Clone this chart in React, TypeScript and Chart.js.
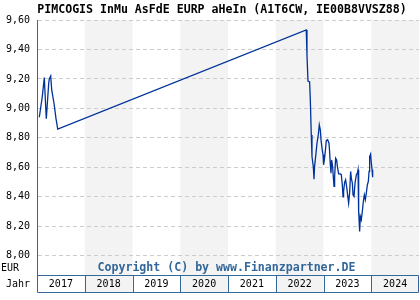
import React, { useEffect, useRef } from "react";
import { Chart, registerables } from "chart.js";

Chart.register(...registerables);

const TITLE = "PIMCOGIS InMu AsFdE EURP aHeIn (A1T6CW, IE00B8VVSZ88)";
const COPYRIGHT = "Copyright (C) by www.Finanzpartner.DE";
const CURRENCY = "EUR";
const YEAR_LABEL = "Jahr";

const years = [2017, 2018, 2019, 2020, 2021, 2022, 2023, 2024];
const yTicks = [8.0, 8.2, 8.4, 8.6, 8.8, 9.0, 9.2, 9.4, 9.6];

const dateX = [
  2017.048, 2017.111, 2017.153, 2017.182, 2017.195, 2017.245, 2017.258, 2017.287,
  2017.308, 2017.356, 2017.398, 2017.434,
  2022.639, 2022.654, 2022.675, 2022.709, 2022.723, 2022.744, 2022.759, 2022.786,
  2022.801, 2022.813, 2022.843, 2022.864, 2022.891, 2022.912, 2022.933, 2022.948,
  2022.969, 2022.99, 2023.002, 2023.023, 2023.044, 2023.059, 2023.086, 2023.115,
  2023.128, 2023.143, 2023.157, 2023.17, 2023.191, 2023.205, 2023.22, 2023.233,
  2023.254, 2023.275, 2023.289, 2023.317, 2023.352, 2023.373, 2023.394, 2023.409,
  2023.421, 2023.442, 2023.463, 2023.484, 2023.505, 2023.526, 2023.547, 2023.568,
  2023.583, 2023.604, 2023.618, 2023.639, 2023.66, 2023.688, 2023.709, 2023.723,
  2023.736, 2023.757, 2023.771, 2023.792, 2023.813, 2023.834, 2023.855, 2023.876,
  2023.897, 2023.918, 2023.939, 2023.954, 2023.966, 2023.987, 2024.002, 2024.017,
  2024.029,
];

const price = [
  8.94, 9.08, 9.21, 9.01, 8.93, 9.17, 9.2, 9.22,
  9.125, 9.035, 8.93, 8.86,
  9.532, 9.363, 9.186, 9.18, 9.07, 8.82, 8.673, 8.605,
  8.52, 8.605, 8.696, 8.764, 8.82, 8.888, 8.854, 8.787,
  8.73, 8.685, 8.617, 8.662, 8.73, 8.782, 8.787, 8.764,
  8.707, 8.617, 8.56, 8.65, 8.605, 8.537, 8.47, 8.537,
  8.662, 8.65, 8.61, 8.556, 8.556, 8.55, 8.48, 8.4,
  8.436, 8.497, 8.515, 8.47, 8.413, 8.357, 8.425, 8.572,
  8.527, 8.493, 8.413, 8.402, 8.493, 8.549, 8.56, 8.583,
  8.3, 8.165, 8.267, 8.244, 8.3, 8.368, 8.413, 8.38,
  8.425, 8.48, 8.504, 8.572, 8.673, 8.69, 8.628, 8.583,
  8.533,
];

const AXIS_BLUE = "#336699";
const LINE_BLUE = "#003399";
const BAND_GREY = "#f3f3f3";
const MONO = "'DejaVu Sans Mono', monospace";

function fitText(ctx: CanvasRenderingContext2D, text: string, weight: string, target: number, base: number) {
  ctx.font = `${weight} ${base}px ${MONO}`;
  const w = ctx.measureText(text).width;
  const size = (base * target) / w;
  ctx.font = `${weight} ${size}px ${MONO}`;
}

export default function App() {
  const ref = useRef<HTMLCanvasElement | null>(null);

  useEffect(() => {
    if (!ref.current) return;
    const boxTop = 275;
    const boxBottom = 292;

    const decor = {
      id: "decor",
      beforeDraw(chart: any) {
        const { ctx, chartArea } = chart;
        const xs = chart.scales.x;
        ctx.save();
        ctx.fillStyle = "#ffffff";
        ctx.fillRect(0, 0, chart.width, chart.height);
        years.forEach((yr, i) => {
          if (i % 2 === 1) {
            const a = xs.getPixelForValue(yr);
            const b = xs.getPixelForValue(yr + 1);
            ctx.fillStyle = BAND_GREY;
            ctx.fillRect(a, chartArea.top, b - a, boxBottom - chartArea.top);
          }
        });
        ctx.restore();
      },
      afterDraw(chart: any) {
        const { ctx, chartArea } = chart;
        const xs = chart.scales.x;
        ctx.save();
        ctx.strokeStyle = AXIS_BLUE;
        ctx.lineWidth = 1;
        const left = Math.round(chartArea.left) + 0.5;
        const right = Math.round(chartArea.right) - 0.5;
        ctx.beginPath();
        ctx.moveTo(left, chartArea.top);
        ctx.lineTo(left, boxBottom + 0.5);
        ctx.lineTo(right, boxBottom + 0.5);
        ctx.lineTo(right, boxTop + 0.5);
        ctx.lineTo(left, boxTop + 0.5);
        ctx.stroke();
        years.forEach((yr, i) => {
          if (i > 0) {
            const p = Math.round(xs.getPixelForValue(yr)) + 0.5;
            ctx.beginPath();
            ctx.moveTo(p, boxTop);
            ctx.lineTo(p, boxBottom);
            ctx.stroke();
          }
        });
        ctx.fillStyle = "#000000";
        ctx.font = `10px ${MONO}`;
        ctx.textAlign = "center";
        ctx.textBaseline = "middle";
        years.forEach((yr) => {
          const c = (xs.getPixelForValue(yr) + xs.getPixelForValue(yr + 1)) / 2;
          ctx.fillText(String(yr), c, 284);
        });
        ctx.textAlign = "left";
        ctx.fillText(CURRENCY, 1, 268);
        ctx.textAlign = "right";
        ctx.fillText(YEAR_LABEL, 30, 284);
        ctx.fillStyle = AXIS_BLUE;
        fitText(ctx, COPYRIGHT, "bold", 258, 11);
        ctx.textAlign = "center";
        ctx.fillText(COPYRIGHT, 226.5, 268);
        ctx.fillStyle = "#000000";
        fitText(ctx, TITLE, "bold", 370, 12);
        ctx.fillText(TITLE, 222, 9.5);
        ctx.restore();
      },
    };

    const chart = new Chart(ref.current, {
      type: "line",
      data: {
        datasets: [
          {
            data: dateX.map((x, i) => ({ x, y: price[i] })),
            borderColor: LINE_BLUE,
            borderWidth: 1.3,
            pointRadius: 0,
            tension: 0,
            fill: false,
          },
        ],
      },
      options: {
        animation: false,
        responsive: false,
        maintainAspectRatio: false,
        layout: { padding: { top: 20, right: 1, bottom: 25, left: 0 } },
        plugins: { legend: { display: false }, tooltip: { enabled: false }, title: { display: false } },
        scales: {
          x: {
            type: "linear",
            min: 2017,
            max: 2025,
            display: false,
          },
          y: {
            min: 7.869,
            max: 9.6,
            afterBuildTicks: (scale: any) => {
              scale.ticks = yTicks.map((v) => ({ value: v }));
            },
            afterFit: (scale: any) => {
              scale.width = 37;
            },
            ticks: {
              padding: 7,
              color: "#000000",
              font: { family: MONO, size: 10 },
              callback: (v: any) => Number(v).toFixed(2).replace(".", ","),
            },
            grid: { color: "#cccccc", drawTicks: false, lineWidth: 1 },
            border: { display: true, color: AXIS_BLUE, width: 1, dash: [4, 3] },
          },
        },
      },
      plugins: [decor],
    });
    return () => chart.destroy();
  }, []);

  return (
    <div style={{ position: "absolute", left: 0, top: 0, width: 420, height: 300 }}>
      <canvas ref={ref} width={420} height={300} />
    </div>
  );
}
